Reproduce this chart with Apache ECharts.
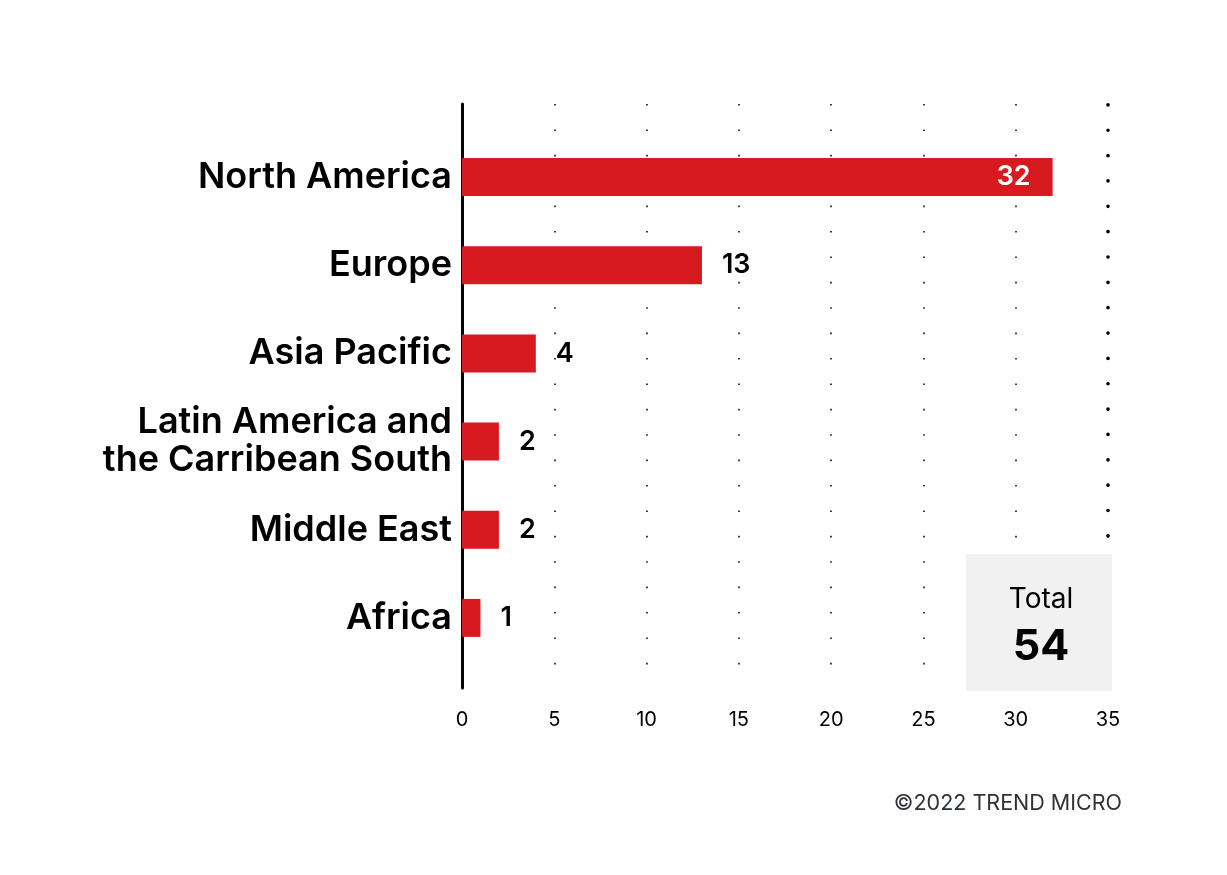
<!DOCTYPE html>
<html>
<head>
<meta charset="utf-8">
<script src="https://cdn.jsdelivr.net/npm/echarts@6/dist/echarts.min.js"></script>
<style>
html,body{margin:0;padding:0;background:#fff;}
#chart{width:1227px;height:875px;}
</style>
</head>
<body>
<div id="chart"></div>
<script>
const categories = ['North America', 'Europe', 'Asia Pacific', 'Latin America and\nthe Carribean South', 'Middle East', 'Africa'];
const values = [32, 13, 4, 2, 2, 1];
const totalLabel = 'Total';
const totalValue = 54;
const xTicks = [0, 5, 10, 15, 20, 25, 30, 35];
const credit = '©2022 TREND MICRO';

const FONT = 'Inter, "Noto Sans", sans-serif';
const chart = echarts.init(document.getElementById('chart'), null, {renderer: 'canvas'});

const barData = values.map((v, i) => {
  const inside = v >= 20;
  return {
    value: v,
    label: inside
      ? {position: 'insideRight', distance: 22, color: '#ffffff'}
      : {position: 'right', distance: 20, color: '#000000'}
  };
});

const option = {
  backgroundColor: '#ffffff',
  animation: false,
  grid: [
    {left: 462, right: 119, top: 104, bottom: 187},
    {left: 462, right: 119, top: 133, bottom: 213}
  ],
  xAxis: [
    {
      gridIndex: 0, type: 'value', min: xTicks[0], max: xTicks[xTicks.length - 1], interval: 5,
      axisLine: {show: false}, axisTick: {show: false},
      axisLabel: {fontFamily: FONT, fontSize: 20, color: '#000', margin: 22},
      splitLine: {show: true, lineStyle: {color: '#111', width: 1.6, type: [1.6, 23.8]}}
    },
    {
      gridIndex: 1, type: 'value', min: xTicks[0], max: xTicks[xTicks.length - 1],
      show: false
    }
  ],
  yAxis: [
    {
      gridIndex: 0, type: 'value', min: 0, max: 1,
      axisLine: {show: true, lineStyle: {color: '#000', width: 3}},
      axisTick: {show: false}, axisLabel: {show: false}, splitLine: {show: false}
    },
    {
      gridIndex: 1, type: 'category', data: categories, inverse: true,
      axisLine: {show: false}, axisTick: {show: false}, splitLine: {show: false},
      axisLabel: {
        fontFamily: FONT, fontSize: 36, fontWeight: 600, color: '#000',
        margin: 10, lineHeight: 38, align: 'right', padding: [8, 0, 0, 0]
      }
    }
  ],
  series: [
    {
      type: 'scatter', xAxisIndex: 0, yAxisIndex: 0, data: [], silent: true,
      markLine: {
        silent: true, symbol: 'none', label: {show: false},
        lineStyle: {color: '#000', width: 3.6, type: [0.1, 25.25], cap: 'round'},
        data: [{xAxis: xTicks[xTicks.length - 1]}]
      }
    },
    {
      type: 'bar', xAxisIndex: 1, yAxisIndex: 1, data: barData,
      barWidth: 38,
      itemStyle: {color: '#d71920'},
      label: {show: true, fontFamily: FONT, fontSize: 27, fontWeight: 600}
    }
  ],
  graphic: [
    {
      type: 'rect', z: 100, shape: {x: 966, y: 554, width: 146, height: 137},
      style: {fill: '#f1f1f1'}
    },
    {
      type: 'text', z: 101, x: 1041, y: 600,
      style: {text: totalLabel, font: '400 28px ' + FONT, fill: '#000', textAlign: 'center', textVerticalAlign: 'middle'}
    },
    {
      type: 'text', z: 101, x: 1041, y: 647,
      style: {text: String(totalValue), font: '700 43px ' + FONT, fill: '#000', textAlign: 'center', textVerticalAlign: 'middle'}
    },
    {
      type: 'text', z: 101, x: 1122, y: 804,
      style: {text: credit, font: '400 21.5px ' + FONT, fill: '#2d3338', textAlign: 'right', textVerticalAlign: 'middle'}
    }
  ]
};
chart.setOption(option);
</script>
</body>
</html>
